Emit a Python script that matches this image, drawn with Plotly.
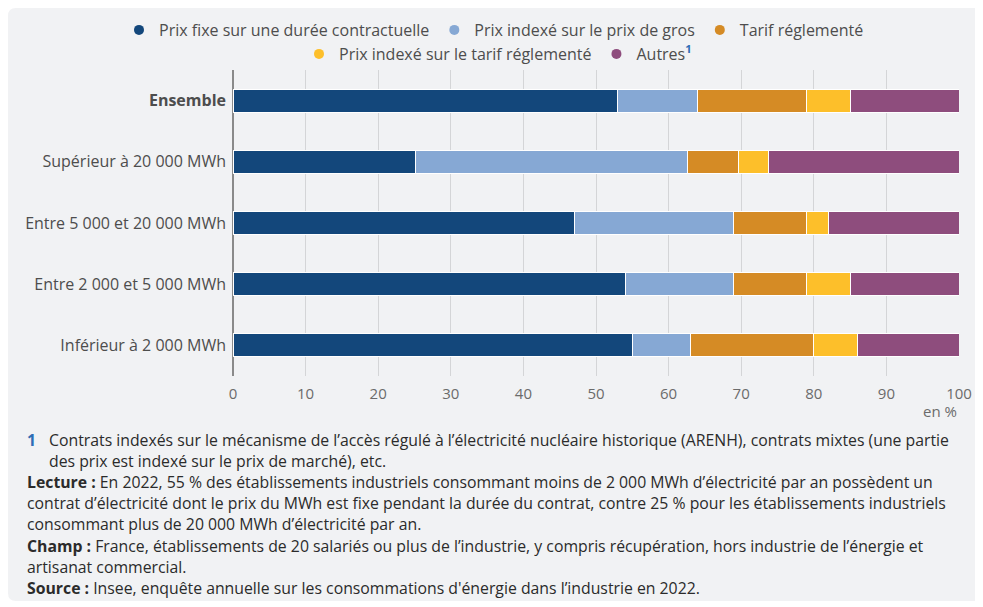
import plotly.graph_objects as go

categories = ["Ensemble", "Supérieur à 20 000 MWh", "Entre 5 000 et 20 000 MWh",
              "Entre 2 000 et 5 000 MWh", "Inférieur à 2 000 MWh"]
tick_labels = ["<b>Ensemble</b>", "Supérieur à 20 000 MWh", "Entre 5 000 et 20 000 MWh",
               "Entre 2 000 et 5 000 MWh", "Inférieur à 2 000 MWh"]

series_names = ["Prix fixe sur une durée contractuelle", "Prix indexé sur le prix de gros",
                "Tarif réglementé", "Prix indexé sur le tarif réglementé",
                "Autres<span style='color:#2f6db5'><sup><b>1</b></sup></span>"]
prix_fixe = [53, 25.2, 47, 54, 55]
prix_gros = [11, 37.4, 22, 15, 8]
tarif_regl = [15, 7.0, 10, 10, 17]
prix_tarif = [6, 4.1, 3, 6, 6]
autres = [15, 26.3, 18, 15, 14]
series_values = [prix_fixe, prix_gros, tarif_regl, prix_tarif, autres]
colors = ["#13477b", "#86a8d4", "#d58b25", "#fdbf2a", "#8e4d7d"]

x_ticks = [0, 10, 20, 30, 40, 50, 60, 70, 80, 90, 100]

# footnote lines: (text, page x, page y)
notes = [
    ("Contrats indexés sur le mécanisme de l’accès régulé à l’électricité nucléaire historique (ARENH), contrats mixtes (une partie", 47, 440),
    ("des prix est indexé sur le prix de marché), etc.", 47, 461),
    ("<b>Lecture :</b> En 2022, 55 % des établissements industriels consommant moins de 2 000 MWh d’électricité par an possèdent un", 25, 482),
    ("contrat d’électricité dont le prix du MWh est fixe pendant la durée du contrat, contre 25 % pour les établissements industriels", 25, 503),
    ("consommant plus de 20 000 MWh d’électricité par an.", 25, 524),
    ("<b>Champ :</b> France, établissements de 20 salariés ou plus de l’industrie, y compris récupération, hors industrie de l’énergie et", 25, 546),
    ("artisanat commercial.", 25, 567),
    ("<b>Source :</b> Insee, enquête annuelle sur les consommations d'énergie dans l’industrie en 2022.", 25, 588),
]

OFF = 8  # default page body margin
W, H = 983 - OFF, 607 - OFF
L, R, T, B = 233 - OFF, 959 - OFF, 70 - OFF, 376 - OFF
pw, ph = R - L, B - T


def px(x):
    return (x - OFF - L) / pw


def py(y):
    return (B - (y - OFF)) / ph


fig = go.Figure()
for name, vals, col in zip(series_names, series_values, colors):
    fig.add_trace(go.Bar(
        x=vals, y=categories, orientation="h", name=name,
        marker=dict(color=col, line=dict(color="white", width=1)),
        showlegend=False, hoverinfo="x+name",
    ))

for i, (name, col) in enumerate(zip(series_names, colors)):
    fig.add_trace(go.Scatter(
        x=[None], y=[None], mode="markers", name=name,
        marker=dict(color=col, size=10, symbol="circle"),
        legend="legend" if i < 3 else "legend2",
    ))

# rounded card background (fig coords: x 0..W+, y 0..593)
x0, x1 = -L / pw, (W + 20 - L) / pw
y1, y0 = (B - 0) / ph, (B - 593) / ph
rx, ry = 8 / pw, 8 / ph
path = (f"M {x0+rx},{y1} L {x1-rx},{y1} Q {x1},{y1} {x1},{y1-ry} "
        f"L {x1},{y0+ry} Q {x1},{y0} {x1-rx},{y0} L {x0+rx},{y0} "
        f"Q {x0},{y0} {x0},{y0+ry} L {x0},{y1-ry} Q {x0},{y1} {x0+rx},{y1} Z")
fig.add_shape(type="path", path=path, xref="paper", yref="paper",
              fillcolor="#f1f2f4", line=dict(width=0), layer="below")

note_font = dict(family="Open Sans", size=15.8, color="#2b2b2b")
annotations = [dict(
    text="<b>1</b>", x=px(25), y=py(440), xref="paper", yref="paper",
    xanchor="left", yanchor="middle", showarrow=False,
    font=dict(family="Open Sans", size=15.8, color="#2f6db5"),
)]
for text, x, y in notes:
    annotations.append(dict(
        text=text, x=px(x), y=py(y), xref="paper", yref="paper",
        xanchor="left", yanchor="middle", showarrow=False,
        font=note_font, align="left",
    ))
annotations.append(dict(
    text="en %", x=1.0, y=py(411), xref="paper", yref="paper",
    xanchor="right", yanchor="middle", showarrow=False,
    font=dict(family="Open Sans", size=15, color="#6b6b6b"),
))

legend_font = dict(family="Open Sans", size=16, color="#4d4d4d")
legend_common = dict(
    orientation="h", yanchor="middle", traceorder="normal",
    font=legend_font, bgcolor="rgba(0,0,0,0)",
    itemclick=False, itemdoubleclick=False,
)

fig.update_layout(
    width=W, height=H,
    margin=dict(l=L, r=W - R, t=T, b=H - B, pad=0, autoexpand=False),
    paper_bgcolor="white", plot_bgcolor="rgba(0,0,0,0)",
    barmode="stack", bargap=0.624,
    font=dict(family="Open Sans", size=16, color="#4d4d4d"),
    legend=dict(**legend_common, xref="paper", yref="paper", xanchor="left",
                x=px(119), y=py(30)),
    legend2=dict(**legend_common, xref="container", yref="container", xanchor="center",
                 x=(498 - OFF) / W, y=1 - (54 - OFF) / H),
    annotations=annotations,
    xaxis=dict(range=[0, 100], tickvals=x_ticks, showgrid=True,
               gridcolor="#d4d5d7", gridwidth=1, zeroline=True,
               zerolinecolor="#8a8a8a", zerolinewidth=1.5, showline=False,
               ticks="", ticklabelstandoff=7,
               tickfont=dict(family="Open Sans", size=15, color="#6b6b6b"),
               fixedrange=True),
    yaxis=dict(categoryorder="array", categoryarray=categories,
               autorange="reversed", tickvals=categories, ticktext=tick_labels,
               showgrid=False, zeroline=False, showline=False, ticks="",
               ticklabelstandoff=6,
               tickfont=dict(family="Open Sans", size=16, color="#4d4d4d"),
               fixedrange=True),
)

fig.write_html("out.html")
